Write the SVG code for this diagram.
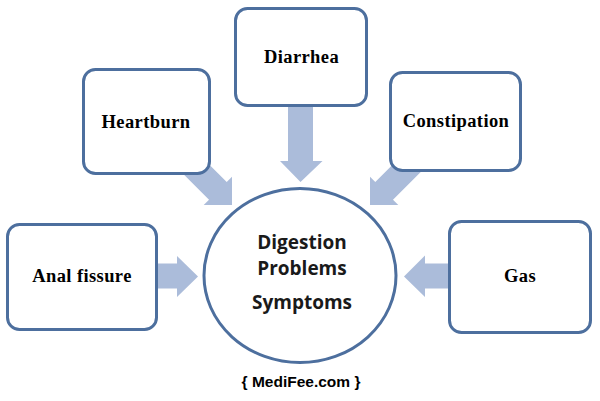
<svg xmlns="http://www.w3.org/2000/svg" width="600" height="401" viewBox="0 0 600 401">
<style>
.box{fill:#ffffff;stroke:#4d6f9e;stroke-width:3}
.arr{fill:#abbcda}
.lbl{font-family:"Liberation Serif","Times New Roman",serif;font-weight:bold;font-size:18.5px;letter-spacing:0.4px;fill:#000;text-anchor:middle}
.ctr{font-family:"Open Sans","Liberation Sans",Arial,sans-serif;font-weight:bold;font-size:19px;fill:#1a1a1a;text-anchor:middle}
.src{font-family:"Liberation Sans",Arial,sans-serif;font-weight:bold;font-size:15.5px;fill:#000;text-anchor:middle}
</style>
<defs>
<polygon id="diag" points="0,0 -20,-20 -20,-12.5 -72,-12.5 -72,12.5 -20,12.5 -20,20"/>
</defs>
<rect width="600" height="401" fill="#ffffff"/>
<g id="connectors">
<use href="#diag" class="arr" transform="translate(232,205) rotate(45)"/>
<use href="#diag" class="arr" transform="translate(370,205) rotate(135)"/>
<polygon class="arr" points="288,104 313,104 313,161 322.5,161 300.5,182 280,161 288,161"/>
<polygon class="arr" points="156,263.5 177,263.5 177,256 198,276.5 177,297 177,288.5 156,288.5"/>
<polygon class="arr" points="451,263.5 425,263.5 425,255.5 404,276.5 425,297 425,288.5 451,288.5"/>
</g>
<g id="heartburn">
<rect class="box" x="83.5" y="69.5" width="126" height="104" rx="12"/>
<text class="lbl" x="146" y="128">Heartburn</text>
</g>
<g id="diarrhea">
<rect class="box" x="235.5" y="8.5" width="131" height="97" rx="12"/>
<text class="lbl" x="301.5" y="63">Diarrhea</text>
</g>
<g id="constipation">
<rect class="box" x="390.5" y="72.5" width="130" height="98" rx="12"/>
<text class="lbl" x="456" y="127">Constipation</text>
</g>
<g id="anal-fissure">
<rect class="box" x="7.5" y="224.5" width="149" height="105" rx="12"/>
<text class="lbl" x="82" y="282">Anal fissure</text>
</g>
<g id="gas">
<rect class="box" x="449.5" y="221.5" width="141" height="111" rx="12"/>
<text class="lbl" x="520" y="282">Gas</text>
</g>
<g id="center">
<ellipse class="box" cx="300" cy="275.5" rx="96" ry="87"/>
<text class="ctr" x="302" y="249">Digestion</text>
<text class="ctr" x="302" y="275">Problems</text>
<text class="ctr" x="302" y="309">Symptoms</text>
</g>
<text class="src" x="301" y="387">{ MediFee.com }</text>
</svg>
